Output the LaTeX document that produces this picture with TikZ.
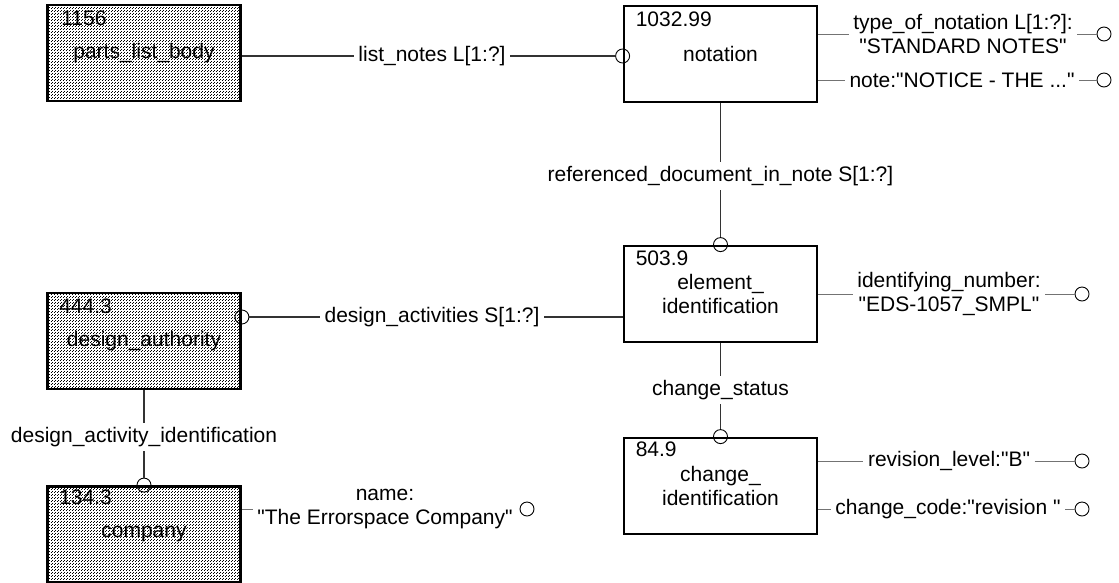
\documentclass[tikz,border=0pt]{standalone}
\usepackage{fontspec}
\newfontfamily\arialfont{Liberation Sans}
\usetikzlibrary{patterns,calc}
\pgfdeclarepatternformonly{refdots}{\pgfqpoint{0pt}{0pt}}{\pgfqpoint{3pt}{3pt}}{\pgfqpoint{3pt}{3pt}}{%
  \pgfpathrectangle{\pgfqpoint{0pt}{0pt}}{\pgfqpoint{1pt}{1pt}}%
  \pgfpathrectangle{\pgfqpoint{1.5pt}{1.5pt}}{\pgfqpoint{1pt}{1pt}}%
  \pgfusepath{fill}}
\begin{document}
\begin{tikzpicture}[x=1pt,y=-1pt,
  font=\arialfont\fontsize{21}{24}\selectfont,
  ent/.style={draw, line width=2.8pt, minimum width=193pt, minimum height=96pt, inner sep=0pt, align=center},
  shadedent/.style={ent, pattern=refdots, pattern color=black},
  idt/.style={anchor=west, inner sep=0pt},
  lbl/.style={inner sep=4.5pt, align=center},
  conn/.style={line width=1.1pt, black!80},
  att/.style={line width=1pt, black!55},
  circ/.style={circle, draw, line width=0.9pt, minimum size=14pt, inner sep=0pt}]
\useasboundingbox (0,0) rectangle (1119,582);
% entities
\node[shadedent] (pl) at (144,53) {parts\_list\_body};
\node[ent] (nt) at (720.5,54) {notation};
\node[ent] (el) at (720.5,294) {element\_\\identification};
\node[ent] (ci) at (720.5,486) {change\_\\identification};
\node[shadedent] (da) at (144,341) {design\_authority};
\node[shadedent] (co) at (144,534.5) {company};
% ids
\node[idt] (plid) at ($(pl.north west)+(15,15)$) {1156};
\node[idt] (ntid) at ($(nt.north west)+(13,15)$) {1032.99};
\node[idt] (elid) at ($(el.north west)+(13,14)$) {503.9};
\node[idt] (ciid) at ($(ci.north west)+(13,13)$) {84.9};
\node[idt] (daid) at ($(da.north west)+(13,15)$) {444.3};
\node[idt] (coid) at ($(co.north west)+(13,12)$) {134.3};
% list_notes
\node[lbl] (lnl) at (432,56) {list\_notes L[1:?]};
\node[circ] (lnc) at (nt.west |- lnl) {};
\draw[conn] (pl.east |- lnl) -- (lnl.west) (lnl.east) -- (lnc.west);
% referenced_document_in_note
\node[lbl] (rdl) at (720.5,176) {referenced\_document\_in\_note S[1:?]};
\node[circ] (rdc) at (el.north) {};
\draw[conn] (nt.south) -- (rdl.north) (rdl.south) -- (rdc.north);
% design_activities
\node[lbl] (dal) at (432,317) {design\_activities S[1:?]};
\node[circ] (dac) at (da.east |- dal) {};
\draw[conn] (dac.east) -- (dal.west) (dal.east) -- (el.west |- dal);
% design_activity_identification
\node[lbl] (dil) at (144,437) {design\_activity\_identification};
\node[circ] (dic) at (co.north) {};
\draw[conn] (da.south) -- (dil.north) (dil.south) -- (dic.north);
% change_status
\node[lbl] (csl) at (720.5,390) {change\_status};
\node[circ] (csc) at (ci.north) {};
\draw[conn] (el.south) -- (csl.north) (csl.south) -- (csc.north);
% name
\node[lbl] (nml) at (385,509) {name:\\"The Errorspace Company"};
\node[circ] (nmc) at (527,509) {};
\draw[att] (co.east |- nml) -- (nml.west);
% attributes of notation
\node[lbl] (a1) at (963,34) {type\_of\_notation L[1:?]:\\"STANDARD NOTES"};
\node[circ] (a1c) at (1104,34) {};
\draw[att] (nt.east |- a1) -- (a1.west) (a1.east) -- (a1c.west);
\node[lbl] (a2) at (962,80) {note:"NOTICE - THE ..."};
\node[circ] (a2c) at (1104,80) {};
\draw[att] (nt.east |- a2) -- (a2.west) (a2.east) -- (a2c.west);
% attributes of element_identification
\node[lbl] (a3) at (949,294) {identifying\_number:\\"EDS-1057\_SMPL"};
\node[circ] (a3c) at (1082,294) {};
\draw[att] (el.east |- a3) -- (a3.west) (a3.east) -- (a3c.west);
% attributes of change_identification
\node[lbl] (a4) at (949,461) {revision\_level:"B"};
\node[circ] (a4c) at (1082,461) {};
\draw[att] (ci.east |- a4) -- (a4.west) (a4.east) -- (a4c.west);
\node[lbl] (a5) at (948,509) {change\_code:"revision\ "};
\node[circ] (a5c) at (1082,509) {};
\draw[att] (ci.east |- a5) -- (a5.west) (a5.east) -- (a5c.west);
\end{tikzpicture}
\end{document}
